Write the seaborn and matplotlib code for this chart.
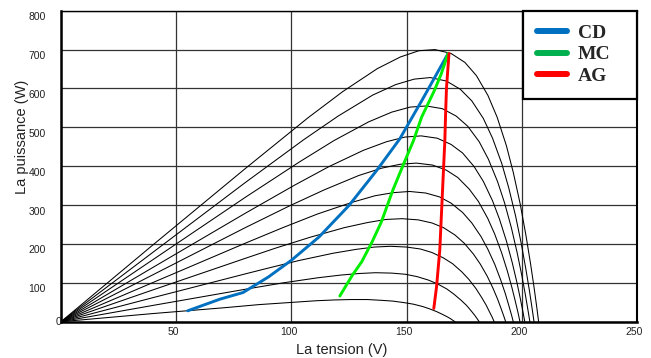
import numpy as np
import pandas as pd
import matplotlib
matplotlib.use("Agg")
import matplotlib.pyplot as plt
import matplotlib.transforms as mtransforms
from matplotlib.lines import Line2D
import seaborn as sns

# ---- PV power curves (voltage V, power W) ----
g1000_v = [0, 40, 80, 107.3, 122.3, 137.3, 147.3, 155.3, 162.3, 169.3, 175.3, 180.3, 185.3, 189.3,
           193.3, 196.3, 199.3, 201.8, 203.8, 205.3, 206.5, 207.3]
g1000_p = [0, 198, 394, 525, 592, 651, 681, 697, 700, 690, 667, 633, 582, 526,
           453, 384, 303, 222, 149, 89, 37, 0]
g900_v = [0, 40, 80, 105.3, 120.3, 135.3, 145.3, 153.3, 160.3, 167.3, 173.3, 178.3, 183.3, 187.3,
          191.3, 194.3, 197.3, 199.8, 201.8, 203.3, 204.5, 205.3]
g900_p = [0, 179, 358, 468, 529, 583, 610, 624, 628, 619, 598, 568, 523, 472,
          407, 345, 272, 200, 134, 80, 33, 0]
g800_v = [0, 40, 80, 103.5, 118.5, 133.5, 143.5, 151.5, 158.5, 165.5, 171.5, 176.5, 181.5, 185.5,
          189.5, 192.5, 195.5, 198.0, 200.0, 201.5, 202.7, 203.5]
g800_p = [0, 160, 320, 411, 466, 514, 539, 552, 555, 548, 529, 503, 463, 418,
          360, 306, 241, 177, 119, 71, 29, 0]
g700_v = [0, 40, 80, 101.3, 116.3, 131.3, 141.3, 149.3, 156.3, 163.3, 169.3, 174.3, 179.3, 183.3,
          187.3, 190.3, 193.3, 195.8, 197.8, 199.3, 200.5, 201.3]
g700_p = [0, 140, 279, 351, 399, 441, 463, 475, 478, 472, 456, 434, 399, 361,
          311, 264, 208, 153, 103, 61, 25, 0]
g600_v = [0, 40, 80, 99.2, 114.2, 129.2, 139.2, 147.2, 154.2, 161.2, 167.2, 172.2, 177.2, 181.2,
          185.2, 188.2, 191.2, 193.7, 195.7, 197.2, 198.4, 199.2]
g600_p = [0, 121, 242, 298, 339, 376, 395, 405, 408, 403, 390, 371, 341, 309,
          266, 226, 178, 131, 88, 52, 22, 0]
g500_v = [0, 40, 80, 96.3, 111.3, 126.3, 136.3, 144.3, 151.3, 158.3, 164.3, 169.3, 174.3, 178.3,
          182.3, 185.3, 188.3, 190.8, 192.8, 194.3, 195.5, 196.3]
g500_p = [0, 101, 202, 242, 277, 307, 324, 332, 335, 331, 321, 305, 281, 254,
          219, 186, 147, 108, 73, 43, 18, 0]
g400_v = [0, 40, 80, 93, 108, 123, 133, 141, 148, 155, 161, 166, 171, 175,
          179, 182, 185, 187.5, 189.5, 191, 192.2, 193]
g400_p = [0, 82, 163, 189, 217, 242, 255, 263, 265, 262, 254, 242, 223, 202,
          174, 148, 117, 86, 58, 34, 14, 0]
g300_v = [0, 40, 80, 88, 103, 118, 128, 136, 143, 150, 156, 161, 166, 170,
          174, 177, 180, 182.5, 184.5, 186, 187.2, 188]
g300_p = [0, 62, 123, 135, 157, 176, 186, 192, 194, 192, 187, 178, 164, 149,
          128, 109, 86, 63, 43, 25, 11, 0]
g200_v = [0, 40, 81.5, 96.5, 111.5, 121.5, 129.5, 136.5, 143.5, 149.5, 154.5, 159.5, 163.5,
          167.5, 170.5, 173.5, 176, 178, 179.5, 180.7, 181.5]
g200_p = [0, 42, 85, 100, 113, 120, 124, 126, 125, 122, 116, 107, 97,
          84, 71, 56, 42, 28, 17, 7, 0]
g100_v = [0, 40, 71, 86, 101, 111, 119, 126, 133, 139, 144, 149, 153,
          157, 160, 163, 165.5, 167.5, 169, 170.2, 171]
g100_p = [0, 21, 36, 44, 50, 54, 56, 57, 57, 55, 53, 49, 45,
          39, 33, 26, 19, 13, 8, 3, 0]

# ---- MPPT trajectories ----
cd_v = [55, 69, 79, 90, 100, 112, 125, 137, 147, 157, 168]
cd_p = [28, 58, 75, 115, 158, 218, 299, 389, 470, 573, 690]
mc_v = [121, 126.5, 130.5, 135, 139, 144, 149, 153, 156.5, 162, 165, 168]
mc_p = [66, 120, 154, 205, 256, 338, 410, 466, 526, 594, 637, 690]
ag_v = [161.8, 163, 164.4, 165.6, 166.6, 166.9, 167.3, 168.4]
ag_p = [34, 90, 184, 338, 466, 530, 600, 690]

methods = ["CD", "MC", "AG"]
line_colors = {"CD": "#0070C0", "MC": "#00EE00", "AG": "#FF0000"}
legend_colors = ["#0070C0", "#00B050", "#FF0000"]

x_ticks = [0, 50, 100, 150, 200, 250]
x_labels = ["", "50", "100", "150", "200", "250"]
y_ticks = [0, 100, 200, 300, 400, 500, 600, 700, 800]
y_labels = ["", "100", "200", "300", "400", "500", "600", "700", "800"]

curves = {
    "1000": (g1000_v, g1000_p), "900": (g900_v, g900_p), "800": (g800_v, g800_p),
    "700": (g700_v, g700_p), "600": (g600_v, g600_p), "500": (g500_v, g500_p),
    "400": (g400_v, g400_p), "300": (g300_v, g300_p), "200": (g200_v, g200_p),
    "100": (g100_v, g100_p),
}
df = pd.concat([pd.DataFrame({"V": v, "P": p, "curve": k}) for k, (v, p) in curves.items()],
               ignore_index=True)
tracks = {"CD": (cd_v, cd_p), "MC": (mc_v, mc_p), "AG": (ag_v, ag_p)}
tdf = pd.concat([pd.DataFrame({"V": v, "P": p, "method": k}) for k, (v, p) in tracks.items()],
                ignore_index=True)

sns.set_theme(style="white")
plt.rcParams["font.family"] = ["Liberation Sans", "DejaVu Sans"]

fig = plt.figure(figsize=(6.51, 3.58), dpi=100)
ax = fig.add_axes([0.0937, 0.1014, 0.8848, 0.8687])

sns.lineplot(data=df, x="V", y="P", units="curve", estimator=None, sort=False,
             color="black", lw=0.75, ax=ax, legend=False, zorder=3)
sns.lineplot(data=tdf, x="V", y="P", hue="method", palette=line_colors, hue_order=methods,
             estimator=None, sort=False, lw=2.1, ax=ax, legend=False, zorder=4)

ax.set_xlim(0, 250)
ax.set_ylim(0, 800)
ax.set_xticks(x_ticks)
ax.set_xticklabels(x_labels)
ax.set_yticks(y_ticks)
ax.set_yticklabels(y_labels)
ax.tick_params(axis="both", length=0, labelsize=7.5, colors="#222222")
ax.tick_params(axis="x", pad=4)
ax.tick_params(axis="y", pad=11)
off = mtransforms.ScaledTranslation(0, -0.055, fig.dpi_scale_trans)
for lab in ax.get_yticklabels():
    lab.set_transform(lab.get_transform() + off)
offx = mtransforms.ScaledTranslation(-0.03, 0, fig.dpi_scale_trans)
for lab in ax.get_xticklabels():
    lab.set_transform(lab.get_transform() + offx)
ax.text(0, 0, "0", ha="center", va="center", fontsize=7.5, color="#222222", zorder=5,
        transform=ax.transData + mtransforms.ScaledTranslation(-0.02, 0, fig.dpi_scale_trans))

ax.grid(True, color="#333333", lw=0.9)
ax.set_axisbelow(True)

for side, lw in [("left", 1.8), ("bottom", 1.8), ("right", 1.5), ("top", 1.0)]:
    ax.spines[side].set_visible(True)
    ax.spines[side].set_color("black")
    ax.spines[side].set_linewidth(lw)

ax.set_xlabel("La tension (V)", fontsize=10.5, color="#222222")
ax.xaxis.set_label_coords(0.488, -0.07)
ax.set_ylabel("La puissance (W)", fontsize=10.5, color="#222222")
ax.yaxis.set_label_coords(-0.055, 0.595)

handles = [Line2D([0], [0], color=c, lw=4.3) for c in legend_colors]
leg = ax.legend(handles, methods, loc="upper left", bbox_to_anchor=(0.802, 0.0, 0.198, 1.0),
                mode="expand", prop={"family": "Liberation Serif", "weight": "bold", "size": 14},
                frameon=True, fancybox=False, edgecolor="black", framealpha=1,
                borderpad=0.7, labelspacing=0.2, handlelength=1.55, handletextpad=0.57,
                borderaxespad=0)
leg.get_frame().set_linewidth(1.6)
leg.set_zorder(10)

fig.savefig("out.png", dpi=100)
